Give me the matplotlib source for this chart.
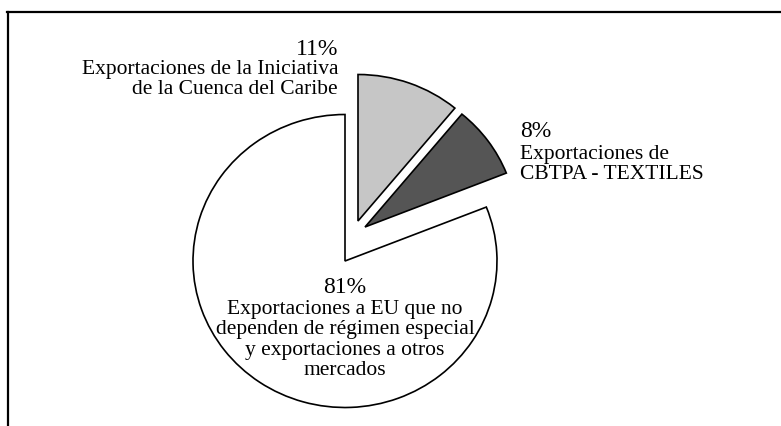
import numpy as np
import matplotlib
matplotlib.use("Agg")
import matplotlib.pyplot as plt
from matplotlib.lines import Line2D

# ---- data ----
shares = [11, 8, 81]
pct_labels = ["11%", "8%", "81%"]
desc_labels = [
    "Exportaciones de la Iniciativa\nde la Cuenca del Caribe",
    "Exportaciones de\nCBTPA - TEXTILES",
    "Exportaciones a EU que no\ndependen de régimen especial\ny exportaciones a otros\nmercados",
]
colors = ["#c6c6c6", "#555555", "#ffffff"]

W, H = 781, 427
fig = plt.figure(figsize=(W / 100, H / 100), dpi=100)
plt.rcParams["font.family"] = ["Liberation Serif", "DejaVu Serif"]

def fx(px):
    return px / W

def fy(py):
    return 1 - py / H

# pie axes: centre (345, 262) px, half-width 152 px, half-height 146.5 px
cx, cy, rx, ry = 345, 262, 152, 146.5
lim = 1.4
ax = fig.add_axes([fx(cx - lim * rx), fy(cy + lim * ry), 2 * lim * rx / W, 2 * lim * ry / H])
wedges, _ = ax.pie(shares, colors=colors, startangle=90, counterclock=False,
                   explode=[0.28, 0.26, 0.0],
                   wedgeprops=dict(edgecolor="black", linewidth=1.2))
# explode offsets as seen in the original
wedges[0].set_center((13 / rx, 40 / ry))
wedges[1].set_center((20 / rx, 34 / ry))
ax.set_aspect("auto")
ax.set_xlim(-lim, lim)
ax.set_ylim(-lim, lim)
ax.axis("off")

# frame lines (top and left)
fig.add_artist(Line2D([fx(7), fx(781)], [fy(13), fy(13)], color="black", lw=1.6, transform=fig.transFigure))
fig.add_artist(Line2D([fx(8), fx(8)], [fy(13), fy(427)], color="black", lw=1.6, transform=fig.transFigure))

pct_size = 17
lab_size = 15.5
ls = 1.1

# 11%
fig.text(fx(338), fy(55), pct_labels[0], ha="right", va="baseline", fontsize=pct_size)
fig.text(fx(338), fy(94), desc_labels[0], ha="right", va="baseline", fontsize=lab_size,
         multialignment="right", linespacing=ls)
# 8%
fig.text(fx(520), fy(137), pct_labels[1], ha="left", va="baseline", fontsize=pct_size)
fig.text(fx(520), fy(179), desc_labels[1], ha="left", va="baseline", fontsize=lab_size,
         multialignment="left", linespacing=ls)
# 81%
fig.text(fx(345), fy(293), pct_labels[2], ha="center", va="baseline", fontsize=pct_size)
fig.text(fx(345), fy(375), desc_labels[2], ha="center", va="baseline", fontsize=lab_size,
         multialignment="center", linespacing=ls)

fig.savefig("out.png", dpi=100)
